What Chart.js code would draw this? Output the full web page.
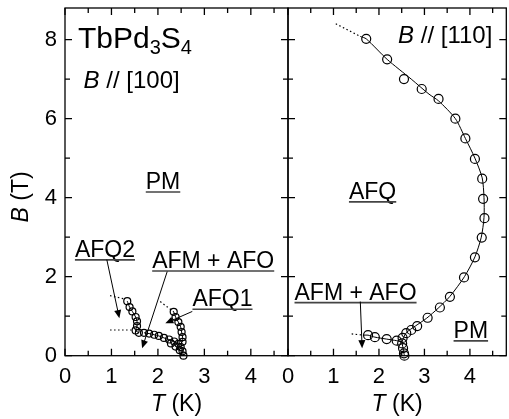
<!DOCTYPE html>
<html>
<head>
<meta charset="utf-8">
<script src="https://cdn.jsdelivr.net/npm/chart.js@4.4.0/dist/chart.umd.min.js"></script>
<style>
  html, body { margin: 0; padding: 0; background: #fff; overflow: hidden; }
  #wrap { position: relative; width: 509px; height: 419px; overflow: hidden; }
  canvas { position: absolute; left: 0; top: 0; }
</style>
</head>
<body>
<div id="wrap">
  <canvas id="leftPanel" width="509" height="419"></canvas>
  <canvas id="rightPanel" width="512" height="419"></canvas>
</div>
<script>
// tick labels (shared by both panels)
const xTicks = [0, 1, 2, 3, 4];
const yTicks = [0, 2, 4, 6, 8];

// ---- B // [100] ----
// AFQ2 branch
const q2T = [1.34, 1.39, 1.45, 1.52, 1.55, 1.55, 1.52, 1.59];
const q2B = [1.38, 1.23, 1.12, 0.98, 0.87, 0.75, 0.64, 0.58];
// low field AFM + AFO boundary
const lowLT = [1.70, 1.81, 1.92, 2.02, 2.13, 2.24, 2.35, 2.44, 2.49, 2.53, 2.55];
const lowLB = [0.58, 0.56, 0.53, 0.50, 0.45, 0.41, 0.36, 0.30, 0.22, 0.11, 0.00];
// AFQ1 branch
const q1T = [2.34, 2.38, 2.44, 2.49, 2.51, 2.53, 2.53];
const q1B = [1.11, 0.98, 0.85, 0.73, 0.60, 0.47, 0.35];
// points around the junction
const junT = [2.28, 2.38, 2.47];
const junB = [0.31, 0.23, 0.14];
// dotted extrapolations
const dotL1T = [0.97, 1.30], dotL1B = [1.52, 1.43];
const dotL2T = [0.97, 1.44], dotL2B = [0.65, 0.65];
const dotL3T = [2.05, 2.34], dotL3B = [1.37, 1.11];

// ---- B // [110] ----
const rT = [1.72, 2.18, 2.55, 2.94, 3.31, 3.68, 3.90, 4.11, 4.27, 4.29, 4.32, 4.26, 4.11, 3.87, 3.56, 3.34, 3.07, 2.84, 2.71, 2.60, 2.52,
            1.76, 1.91, 2.17, 2.39, 2.51, 2.53, 2.55, 2.56];
const rB = [8.02, 7.50, 7.00, 6.75, 6.50, 6.00, 5.50, 4.98, 4.48, 3.97, 3.48, 2.99, 2.49, 1.98, 1.49, 1.22, 0.96, 0.75, 0.65, 0.57, 0.45,
            0.52, 0.47, 0.42, 0.38, 0.31, 0.19, 0.06, 0.00];
// guide line through the AFQ boundary
const guideT = [1.59, 1.72, 2.18, 2.71, 3.10, 3.31, 3.68, 3.90, 4.11, 4.27, 4.31, 4.31, 4.25, 4.11, 3.88, 3.56, 3.30, 3.05, 2.80, 2.60, 2.51, 2.53, 2.55, 2.56];
const guideB = [8.08, 8.02, 7.50, 7.00, 6.62, 6.45, 6.00, 5.50, 5.00, 4.50, 4.00, 3.50, 3.00, 2.50, 2.00, 1.50, 1.20, 0.95, 0.75, 0.58, 0.35, 0.19, 0.06, 0.00];
const guideLowT = [1.67, 1.76, 1.91, 2.17, 2.39, 2.51];
const guideLowB = [0.52, 0.52, 0.47, 0.42, 0.38, 0.35];
const dotR1T = [1.05, 1.59], dotR1B = [8.40, 8.08];
const dotR2T = [1.40, 1.67], dotR2B = [0.55, 0.52];

const FONT = "'Liberation Sans', Arial, sans-serif";
Chart.defaults.font.family = FONT;
Chart.defaults.color = '#000';

function pts(xs, ys) {
  return xs.map((v, i) => ({ x: v, y: ys[i] }));
}

function markers(xs, ys, r) {
  return {
    data: pts(xs, ys), showLine: false, pointRadius: r, pointHoverRadius: r,
    pointBorderColor: '#000', pointBackgroundColor: 'rgba(0,0,0,0)', pointBorderWidth: 1.2, clip: false
  };
}

function curve(xs, ys, opts) {
  return Object.assign({
    data: pts(xs, ys), showLine: true, pointRadius: 0, borderColor: '#000',
    borderWidth: 1, tension: 0.25, clip: false
  }, opts || {});
}

function dotted(xs, ys) {
  return curve(xs, ys, { borderDash: [1.5, 2.5], borderWidth: 1.2, tension: 0 });
}

// draws text made of runs (italic / subscript pieces)
function drawRuns(ctx, runs, x, y, size, align) {
  const fontOf = r => (r.i ? 'italic ' : '') + (r.sub ? Math.round(size * 0.68) : size) + 'px ' + FONT;
  let total = 0;
  runs.forEach(r => { ctx.font = fontOf(r); r.w = ctx.measureText(r.t).width; total += r.w; });
  let cx = align === 'center' ? x - total / 2 : x;
  const start = cx;
  ctx.textAlign = 'left';
  runs.forEach(r => {
    ctx.font = fontOf(r);
    ctx.fillText(r.t, cx, y + (r.sub ? size * 0.2 : 0));
    cx += r.w;
  });
  return { left: start, right: cx };
}

const annotPlugin = {
  id: 'annot',
  afterDatasetsDraw(chart, args, opts) {
    const { ctx, chartArea: a, scales: { x, y } } = chart;
    ctx.save();
    ctx.fillStyle = '#000';
    ctx.strokeStyle = '#000';

    // frame
    ctx.lineWidth = 1.3;
    ctx.strokeRect(a.left, a.top, a.right - a.left, a.bottom - a.top);

    // inward ticks, majors on labelled values, minors half way
    ctx.beginPath();
    for (let v = x.min; v <= x.max + 1e-9; v += 0.5) {
      const px = x.getPixelForValue(v);
      const len = Math.abs(v - Math.round(v)) < 1e-6 ? 7 : 5;
      ctx.moveTo(px, a.bottom); ctx.lineTo(px, a.bottom - len);
      ctx.moveTo(px, a.top); ctx.lineTo(px, a.top + len);
    }
    for (let v = y.min; v <= y.max + 1e-9; v += 1) {
      const py = y.getPixelForValue(v);
      const len = v % 2 === 0 ? 7 : 5;
      ctx.moveTo(a.left, py); ctx.lineTo(a.left + len, py);
      ctx.moveTo(a.right, py); ctx.lineTo(a.right - len, py);
    }
    ctx.stroke();

    // x axis title
    ctx.textBaseline = 'alphabetic';
    drawRuns(ctx, [{ t: 'T', i: true }, { t: ' (K)' }], (a.left + a.right) / 2, a.bottom + 55, 23, 'center');

    // y axis title
    if (opts.yTitle) {
      ctx.save();
      ctx.translate(22, (a.top + a.bottom) / 2 + 15);
      ctx.rotate(-Math.PI / 2);
      ctx.textBaseline = 'middle';
      drawRuns(ctx, [{ t: 'B', i: true }, { t: ' (T)' }], 0, 0, 23, 'center');
      ctx.restore();
    }

    // labels
    (opts.texts || []).forEach(tx => {
      const px = x.getPixelForValue(tx.x), py = y.getPixelForValue(tx.y);
      ctx.textBaseline = 'alphabetic';
      const ext = drawRuns(ctx, tx.runs, px, py, tx.size, tx.align);
      if (tx.underline) {
        ctx.save();
        ctx.strokeStyle = '#444';
        ctx.lineWidth = 1.6;
        ctx.beginPath();
        ctx.moveTo(ext.left, py + 3);
        ctx.lineTo(ext.right, py + 3);
        ctx.stroke();
        ctx.restore();
      }
    });

    // arrows
    (opts.arrows || []).forEach(ar => {
      const x0 = x.getPixelForValue(ar.from[0]), y0 = y.getPixelForValue(ar.from[1]);
      const x1 = x.getPixelForValue(ar.to[0]), y1 = y.getPixelForValue(ar.to[1]);
      const ang = Math.atan2(y1 - y0, x1 - x0);
      ctx.lineWidth = 1;
      ctx.beginPath();
      ctx.moveTo(x0, y0);
      ctx.lineTo(x1 - 6 * Math.cos(ang), y1 - 6 * Math.sin(ang));
      ctx.stroke();
      ctx.beginPath();
      ctx.moveTo(x1, y1);
      ctx.lineTo(x1 - 8 * Math.cos(ang) + 3.5 * Math.sin(ang), y1 - 8 * Math.sin(ang) - 3.5 * Math.cos(ang));
      ctx.lineTo(x1 - 8 * Math.cos(ang) - 3.5 * Math.sin(ang), y1 - 8 * Math.sin(ang) + 3.5 * Math.cos(ang));
      ctx.closePath();
      ctx.fill();
    });
    ctx.restore();
  }
};

function noPad(s) {
  s.paddingTop = 0; s.paddingBottom = 0; s.paddingLeft = 0; s.paddingRight = 0;
}

function scales(yWidth, showYLabels) {
  return {
    x: {
      type: 'linear', min: 0, max: 4.8,
      grid: { display: false, drawTicks: false }, border: { display: false },
      ticks: { font: { size: 22 }, padding: 8, color: '#000' },
      afterBuildTicks: s => { s.ticks = xTicks.map(v => ({ value: v })); },
      afterFit: s => { s.height = 63.3; noPad(s); }
    },
    y: {
      type: 'linear', min: 0, max: 8.8,
      grid: { display: false, drawTicks: false }, border: { display: false },
      ticks: { display: showYLabels, font: { size: 22 }, padding: 8, color: '#000' },
      afterBuildTicks: s => { s.ticks = yTicks.map(v => ({ value: v })); },
      afterFit: s => { s.width = yWidth; noPad(s); }
    }
  };
}

const common = {
  responsive: false,
  animation: false,
  events: [],
  plugins: { legend: { display: false }, tooltip: { enabled: false } }
};

new Chart(document.getElementById('leftPanel'), {
  type: 'scatter',
  data: {
    datasets: [
      dotted(dotL1T, dotL1B),
      dotted(dotL2T, dotL2B),
      dotted(dotL3T, dotL3B),
      curve(q2T, q2B), curve(lowLT, lowLB), curve(q1T, q1B),
      markers(q2T, q2B, 3.5),
      markers(lowLT, lowLB, 3.5),
      markers(q1T, q1B, 3.5),
      markers(junT, junB, 3.5)
    ]
  },
  options: Object.assign({}, common, {
    layout: { padding: { left: 0, top: 8, right: 221, bottom: 0 } },
    scales: scales(65, true),
    plugins: Object.assign({}, common.plugins, {
      annot: {
        yTitle: true,
        texts: [
          { runs: [{ t: 'TbPd' }, { t: '3', sub: true }, { t: 'S' }, { t: '4', sub: true }], x: 0.28, y: 7.79, size: 30, align: 'left' },
          { runs: [{ t: 'B', i: true }, { t: ' // [100]' }], x: 0.40, y: 6.78, size: 24, align: 'left' },
          { runs: [{ t: 'PM' }], x: 2.11, y: 4.22, size: 23, align: 'center', underline: true },
          { runs: [{ t: 'AFQ2' }], x: 0.86, y: 2.50, size: 23, align: 'center', underline: true },
          { runs: [{ t: 'AFM + AFO' }], x: 3.19, y: 2.22, size: 23, align: 'center', underline: true },
          { runs: [{ t: 'AFQ1' }], x: 3.39, y: 1.25, size: 23, align: 'center', underline: true }
        ],
        arrows: [
          { from: [0.90, 2.43], to: [1.17, 0.95] },
          { from: [2.20, 2.13], to: [1.66, 0.19] },
          { from: [2.74, 1.12], to: [2.16, 0.82] }
        ]
      }
    })
  }),
  plugins: [annotPlugin]
});

new Chart(document.getElementById('rightPanel'), {
  type: 'scatter',
  data: {
    datasets: [
      dotted(dotR1T, dotR1B),
      dotted(dotR2T, dotR2B),
      curve(guideT, guideB),
      curve(guideLowT, guideLowB),
      markers(rT, rB, 4.5)
    ]
  },
  options: Object.assign({}, common, {
    layout: { padding: { left: 0, top: 8, right: 2, bottom: 0 } },
    scales: scales(288, false),
    plugins: Object.assign({}, common.plugins, {
      annot: {
        yTitle: false,
        texts: [
          { runs: [{ t: 'B', i: true }, { t: ' // [110]' }], x: 2.42, y: 7.92, size: 24, align: 'left' },
          { runs: [{ t: 'AFQ' }], x: 1.86, y: 3.97, size: 23, align: 'center', underline: true },
          { runs: [{ t: 'AFM + AFO' }], x: 1.485, y: 1.42, size: 23, align: 'center', underline: true },
          { runs: [{ t: 'PM' }], x: 4.02, y: 0.45, size: 23, align: 'center', underline: true }
        ],
        arrows: [
          { from: [1.59, 1.37], to: [1.63, 0.19] }
        ]
      }
    })
  }),
  plugins: [annotPlugin]
});
</script>
</body>
</html>
